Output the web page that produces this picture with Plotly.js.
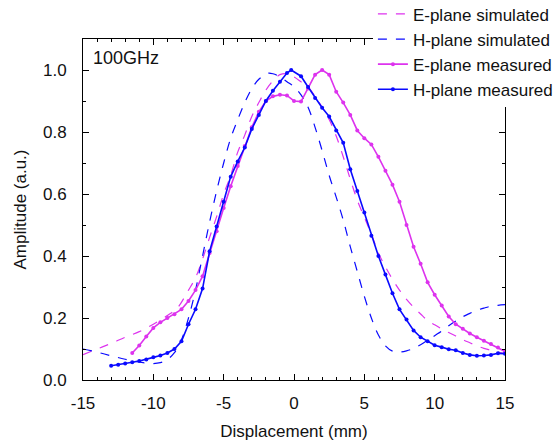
<!DOCTYPE html>
<html>
<head>
<meta charset="utf-8">
<script src="https://cdn.plot.ly/plotly-3.0.1.min.js"></script>
<style>html,body{margin:0;padding:0;background:#fff;}#chart{width:558px;height:441px;}</style>
</head>
<body>
<div id="chart"></div>
<script>
// E-plane simulated
const eSimX = [-15,-14,-13,-12,-11,-10,-9,-8.3,-7.5,-7,-6.5,-6,-5.5,-5,-4.5,-4,-3.5,-3,-2.5,-2,-1.5,-1,-0.5,0,0.5,1,1.5,2,2.5,3,3.5,4,4.5,5,5.5,6,6.5,7,7.5,8,8.5,9,9.5,10,10.5,11,11.5,12,12.5,13,13.5,14,14.5,15];
const eSimY = [0.082,0.100,0.118,0.138,0.156,0.180,0.208,0.232,0.290,0.330,0.390,0.460,0.527,0.600,0.660,0.735,0.790,0.850,0.895,0.935,0.965,0.985,0.988,0.978,0.962,0.945,0.915,0.880,0.840,0.787,0.720,0.648,0.580,0.525,0.470,0.410,0.365,0.325,0.290,0.260,0.235,0.213,0.192,0.178,0.165,0.153,0.142,0.130,0.120,0.110,0.102,0.096,0.090,0.085];
// H-plane simulated
const hSimX = [-15,-14,-13,-12,-11,-10.5,-10,-9.5,-9,-8.5,-8,-7.5,-7,-6.5,-6,-5.5,-5,-4.5,-4,-3.5,-3,-2.5,-1.9,-1.5,-1,-0.5,0,0.5,1,1.5,2,2.5,3,3.5,4,4.5,5,5.5,6,6.5,7,7.5,8,8.5,9,9.5,10,10.5,11,11.5,12,12.5,13,13.5,14,14.5,15];
const hSimY = [0.100,0.090,0.078,0.067,0.058,0.054,0.053,0.056,0.066,0.088,0.130,0.200,0.290,0.400,0.510,0.610,0.700,0.780,0.840,0.895,0.940,0.970,0.989,0.988,0.978,0.962,0.946,0.920,0.880,0.815,0.740,0.660,0.590,0.516,0.430,0.350,0.270,0.200,0.145,0.110,0.093,0.090,0.094,0.102,0.114,0.128,0.143,0.158,0.175,0.190,0.204,0.215,0.225,0.232,0.238,0.241,0.243];
// E-plane measured
const eMeasX = [-11.5,-11,-10.5,-10,-9.5,-9,-8.5,-8,-7.5,-7,-6.5,-6,-5.5,-5,-4.5,-4,-3.5,-3,-2.5,-2,-1.5,-1,-0.5,0,0.5,1,1.5,2,2.5,3,3.5,4,4.5,5,5.5,6,6.5,7,7.5,8,8.5,9,9.5,10,10.5,11,11.5,12,12.5,13,13.5,14,14.5,15];
const eMeasY = [0.087,0.111,0.140,0.168,0.186,0.200,0.212,0.228,0.255,0.290,0.335,0.410,0.480,0.555,0.625,0.690,0.755,0.815,0.865,0.900,0.915,0.920,0.918,0.900,0.898,0.940,0.985,1.000,0.985,0.930,0.895,0.855,0.805,0.780,0.760,0.720,0.675,0.630,0.575,0.500,0.430,0.375,0.315,0.275,0.240,0.205,0.180,0.165,0.150,0.138,0.127,0.116,0.105,0.092];
// H-plane measured
const hMeasX = [-13,-12.5,-12,-11.5,-11,-10.5,-10,-9.5,-9,-8.5,-8,-7.5,-7,-6.5,-6,-5.5,-5,-4.5,-4,-3.5,-3,-2.5,-2,-1.5,-1,-0.5,-0.2,0.5,1,1.5,2,2.5,3,3.5,4,4.5,5,5.5,6,6.5,7,7.5,8,8.5,9,9.5,10,10.5,11,11.5,12,12.5,13,13.5,14,14.5,15];
const hMeasY = [0.046,0.049,0.053,0.057,0.061,0.066,0.073,0.079,0.087,0.100,0.125,0.180,0.228,0.295,0.415,0.495,0.575,0.656,0.705,0.750,0.810,0.855,0.900,0.933,0.962,0.990,1.000,0.980,0.945,0.910,0.878,0.850,0.805,0.765,0.680,0.610,0.540,0.465,0.400,0.340,0.280,0.228,0.195,0.160,0.138,0.125,0.112,0.106,0.099,0.096,0.087,0.081,0.078,0.079,0.081,0.086,0.085];

// tick labels
const xTickVals = [-15,-10,-5,0,5,10,15];
const xTickText = ['-15','-10','-5','0','5','10','15'];
const yTickVals = [0,0.2,0.4,0.6,0.8,1.0];
const yTickText = ['0.0','0.2','0.4','0.6','0.8','1.0'];

const names = ['E-plane simulated','H-plane simulated','E-plane measured','H-plane measured'];
const magenta = '#dd33ee';
const blue = '#0a0aff';

const traces = [
  {x: eSimX, y: eSimY, name: names[0], mode: 'lines', line: {color: magenta, width: 1.2, dash: 'dash', shape: 'spline'}},
  {x: hSimX, y: hSimY, name: names[1], mode: 'lines', line: {color: blue, width: 1.2, dash: 'dash', shape: 'spline'}},
  {x: eMeasX, y: eMeasY, name: names[2], mode: 'lines+markers', line: {color: magenta, width: 1.6}, marker: {color: magenta, size: 4}},
  {x: hMeasX, y: hMeasY, name: names[3], mode: 'lines+markers', line: {color: blue, width: 1.6}, marker: {color: blue, size: 4}}
];

const font = {family: 'Liberation Sans, Arial, sans-serif', size: 17, color: '#111'};
const layout = {
  width: 558, height: 441,
  margin: {l: 83, r: 53, t: 39, b: 61, autoexpand: false},
  paper_bgcolor: '#fff', plot_bgcolor: '#fff',
  font: font,
  showlegend: true,
  legend: {x: 0.687, y: 1.125, xanchor: 'left', yanchor: 'top', bgcolor: '#fff', borderwidth: 0, font: font, tracegroupgap: 0},
  xaxis: {
    range: [-15, 15], tickmode: 'array', tickvals: xTickVals, ticktext: xTickText, ticks: 'inside', ticklen: 6, tickcolor: '#000',
    showline: true, linecolor: '#000', linewidth: 1, mirror: 'ticks', showgrid: false, zeroline: false,
    minor: {dtick: 1, tick0: 0, ticks: 'inside', ticklen: 3, tickcolor: '#000'},
    ticklabelstandoff: 8,
    title: {text: 'Displacement (mm)', font: font, standoff: 12}, tickfont: font, automargin: false
  },
  yaxis: {
    range: [0, 1.1], tickmode: 'array', tickvals: yTickVals, ticktext: yTickText, ticks: 'inside', ticklen: 6, tickcolor: '#000',
    showline: true, linecolor: '#000', linewidth: 1, mirror: 'ticks', showgrid: false, zeroline: false,
    minor: {dtick: 0.1, tick0: 0, ticks: 'inside', ticklen: 3, tickcolor: '#000'},
    ticklabelstandoff: 12,
    title: {text: 'Amplitude (a.u.)', font: font, standoff: 12}, tickfont: font, automargin: false
  },
  annotations: [{xref: 'paper', yref: 'paper', x: 0.02, y: 0.98, xanchor: 'left', yanchor: 'top', text: '100GHz', showarrow: false, font: {family: font.family, size: 18, color: '#111'}}]
};

Plotly.newPlot('chart', traces, layout, {displayModeBar: false, staticPlot: true});
</script>
</body>
</html>
